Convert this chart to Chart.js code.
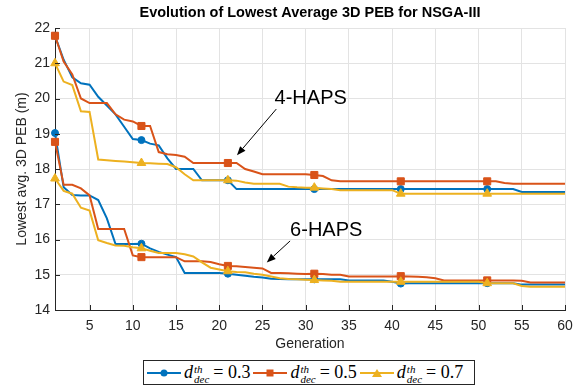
<!DOCTYPE html>
<html>
<head>
<meta charset="utf-8">
<title>Evolution of Lowest Average 3D PEB for NSGA-III</title>
<script src="https://cdn.jsdelivr.net/npm/chart.js@4.4.1/dist/chart.umd.min.js"></script>
<style>
	html, body { margin: 0; padding: 0; background: #fff; }
	#peb-wrap { position: relative; width: 587px; height: 389px; }
	#peb-chart { display: block; }
	#peb-legend {
		position: absolute; left: 143px; top: 360px; width: 332px; height: 25px;
		box-sizing: border-box; border: 1px solid #262626; background: #fff;
		display: flex; align-items: center;
		font-family: 'Liberation Serif', 'DejaVu Serif', serif; font-size: 18px; color: #000;
	}
	#peb-legend .item { display: flex; align-items: center; margin-left: 3px; }
	#peb-legend .sample { position: relative; width: 34px; height: 2px; margin-right: 3px; }
	#peb-legend .mk { position: absolute; left: 50%; top: 50%; transform: translate(-50%, -50%); }
	#peb-legend .mk.circle { width: 7px; height: 7px; border-radius: 50%; }
	#peb-legend .mk.rect { width: 7px; height: 7px; }
	#peb-legend .mk.triangle { width: 0; height: 0; border-left: 5px solid transparent; border-right: 5px solid transparent; border-bottom-width: 8px; border-bottom-style: solid; }
	#peb-legend .sym { font-style: italic; }
	#peb-legend .idx {
		display: inline-flex; flex-direction: column; vertical-align: 5px;
		font-size: 11px; font-style: italic; line-height: 10px; margin: 0 4px 0 1px;
	}
</style>
</head>
<body>
<div id="peb-wrap">
	<canvas id="peb-chart" width="587" height="389"></canvas>
	<div id="peb-legend"></div>
</div>
<script>
	'use strict';

	var generations = [
		1, 2, 3, 4, 5, 6, 7, 8, 9, 10,
		11, 12, 13, 14, 15, 16, 17, 18, 19, 20,
		21, 22, 23, 24, 25, 26, 27, 28, 29, 30,
		31, 32, 33, 34, 35, 36, 37, 38, 39, 40,
		41, 42, 43, 44, 45, 46, 47, 48, 49, 50,
		51, 52, 53, 54, 55, 56, 57, 58, 59, 60
	];

	// 4-HAPS runs
	var peb4Haps03 = [
		21.78, 21.10, 20.60, 20.43, 20.39, 20.05, 19.80, 19.55, 19.20, 18.85,
		18.82, 18.72, 18.67, 18.30, 18.00, 18.00, 18.00, 17.68, 17.68, 17.68,
		17.68, 17.43, 17.43, 17.43, 17.43, 17.43, 17.43, 17.43, 17.43, 17.43,
		17.43, 17.43, 17.43, 17.43, 17.43, 17.43, 17.43, 17.43, 17.43, 17.43,
		17.43, 17.43, 17.43, 17.43, 17.43, 17.43, 17.43, 17.43, 17.43, 17.43,
		17.43, 17.43, 17.43, 17.43, 17.35, 17.35, 17.35, 17.35, 17.35, 17.35
	];
	var peb4Haps05 = [
		21.78, 21.05, 20.68, 20.00, 19.87, 19.87, 19.87, 19.55, 19.40, 19.35,
		19.22, 19.22, 18.48, 18.42, 18.40, 18.35, 18.17, 18.17, 18.17, 18.17,
		18.17, 18.17, 18.00, 17.93, 17.85, 17.85, 17.85, 17.85, 17.85, 17.85,
		17.83, 17.80, 17.68, 17.65, 17.65, 17.65, 17.65, 17.65, 17.65, 17.65,
		17.65, 17.65, 17.65, 17.65, 17.65, 17.65, 17.65, 17.65, 17.65, 17.65,
		17.65, 17.65, 17.60, 17.58, 17.58, 17.58, 17.58, 17.58, 17.58, 17.58
	];
	var peb4Haps07 = [
		21.00, 20.48, 20.38, 19.64, 19.62, 18.27, 18.25, 18.23, 18.21, 18.19,
		18.17, 18.16, 18.15, 18.14, 18.05, 17.85, 17.68, 17.68, 17.68, 17.68,
		17.68, 17.67, 17.62, 17.58, 17.58, 17.58, 17.58, 17.50, 17.48, 17.47,
		17.47, 17.45, 17.43, 17.40, 17.40, 17.40, 17.40, 17.40, 17.40, 17.40,
		17.30, 17.30, 17.30, 17.30, 17.30, 17.30, 17.30, 17.30, 17.30, 17.30,
		17.30, 17.30, 17.30, 17.30, 17.30, 17.30, 17.30, 17.30, 17.30, 17.30
	];

	// 6-HAPS runs
	var peb6Haps03 = [
		19.02, 17.48, 17.26, 17.25, 17.25, 17.12, 16.60, 15.87, 15.87, 15.87,
		15.88, 15.75, 15.65, 15.57, 15.50, 15.05, 15.05, 15.05, 15.05, 15.05,
		15.03, 15.00, 14.97, 14.94, 14.92, 14.89, 14.88, 14.87, 14.87, 14.87,
		14.87, 14.87, 14.87, 14.87, 14.84, 14.84, 14.84, 14.84, 14.84, 14.80,
		14.75, 14.76, 14.76, 14.76, 14.76, 14.76, 14.76, 14.76, 14.76, 14.76,
		14.76, 14.76, 14.76, 14.76, 14.72, 14.72, 14.72, 14.72, 14.72, 14.72
	];
	var peb6Haps05 = [
		18.77, 17.55, 17.55, 17.45, 17.25, 16.30, 16.30, 16.30, 16.30, 15.55,
		15.50, 15.50, 15.50, 15.50, 15.50, 15.38, 15.38, 15.38, 15.36, 15.30,
		15.25, 15.24, 15.22, 15.20, 15.18, 15.05, 15.05, 15.04, 15.03, 15.02,
		15.03, 15.02, 15.00, 15.00, 14.95, 14.95, 14.95, 14.95, 14.95, 14.95,
		14.96, 14.95, 14.94, 14.93, 14.90, 14.84, 14.84, 14.84, 14.84, 14.84,
		14.84, 14.84, 14.84, 14.84, 14.83, 14.78, 14.78, 14.78, 14.78, 14.78
	];
	var peb6Haps07 = [
		17.73, 17.38, 17.30, 16.90, 16.82, 15.98, 15.90, 15.83, 15.82, 15.78,
		15.75, 15.68, 15.62, 15.62, 15.62, 15.58, 15.52, 15.35, 15.20, 15.15,
		15.10, 15.08, 15.07, 15.03, 15.00, 14.95, 14.90, 14.88, 14.87, 14.86,
		14.85, 14.84, 14.83, 14.80, 14.80, 14.80, 14.80, 14.80, 14.80, 14.80,
		14.80, 14.80, 14.80, 14.80, 14.80, 14.80, 14.80, 14.80, 14.80, 14.80,
		14.76, 14.76, 14.76, 14.76, 14.68, 14.66, 14.66, 14.66, 14.66, 14.66
	];

	var thresholdLabels = ['0.3', '0.5', '0.7'];
	var xTickValues = [5, 10, 15, 20, 25, 30, 35, 40, 45, 50, 55, 60];
	var yTickValues = [14, 15, 16, 17, 18, 19, 20, 21, 22];

	var seriesColors = ['#0072BD', '#D95319', '#EDB120'];
	var seriesMarkers = ['circle', 'rect', 'triangle'];
	var markerRadius = { circle: 3.5, rect: 5, triangle: 5 };
	var axisColor = '#262626';
	var sansFamily = "'Liberation Sans', Arial, Helvetica, sans-serif";

	// Callout text + arrow, given in data units
	var hapsNotes = [
		{ text: '4-HAPS', at: [26.4, 19.85], from: [26.6, 19.7], to: [22.05, 18.39] },
		{ text: '6-HAPS', at: [28.2, 16.1], from: [28.2, 15.96], to: [25.5, 15.35] }
	];

	function toPoints(values) {
		return values.map(function (v, i) { return { x: generations[i], y: v }; });
	}

	function buildDataset(values, k) {
		return {
			data: toPoints(values),
			borderColor: seriesColors[k],
			backgroundColor: seriesColors[k],
			borderWidth: 2,
			pointStyle: seriesMarkers[k],
			pointBackgroundColor: seriesColors[k],
			pointBorderColor: seriesColors[k],
			pointBorderWidth: 1,
			// a marker every 10th generation, starting at 1
			pointRadius: function (ctx) { return ctx.dataIndex % 10 === 0 ? markerRadius[seriesMarkers[k]] : 0; },
			tension: 0,
			fill: false,
			clip: false,
			order: 3 - k
		};
	}

	// MATLAB-style tick marks pointing into the plot
	var innerTicks = {
		id: 'innerTicks',
		afterDraw: function (chart) {
			var ctx = chart.ctx, area = chart.chartArea;
			var xs = chart.scales.x, ys = chart.scales.y;
			ctx.save();
			ctx.strokeStyle = axisColor;
			ctx.lineWidth = 1;
			ctx.beginPath();
			yTickValues.forEach(function (v) {
				var py = Math.round(ys.getPixelForValue(v)) + 0.5;
				ctx.moveTo(area.left, py);
				ctx.lineTo(area.left + 5, py);
			});
			xTickValues.forEach(function (v) {
				var px = Math.round(xs.getPixelForValue(v)) + 0.5;
				ctx.moveTo(px, area.bottom);
				ctx.lineTo(px, area.bottom - 5);
			});
			ctx.stroke();
			ctx.restore();
		}
	};

	// "4-HAPS" / "6-HAPS" labels with arrows
	var hapsCallouts = {
		id: 'hapsCallouts',
		afterDatasetsDraw: function (chart) {
			var ctx = chart.ctx;
			var xs = chart.scales.x, ys = chart.scales.y;
			ctx.save();
			hapsNotes.forEach(function (n) {
				var tx = xs.getPixelForValue(n.at[0]), ty = ys.getPixelForValue(n.at[1]);
				var x0 = xs.getPixelForValue(n.from[0]), y0 = ys.getPixelForValue(n.from[1]);
				var x1 = xs.getPixelForValue(n.to[0]), y1 = ys.getPixelForValue(n.to[1]);

				ctx.fillStyle = '#000';
				ctx.font = '20px ' + sansFamily;
				ctx.textAlign = 'left';
				ctx.textBaseline = 'alphabetic';
				ctx.fillText(n.text, tx, ty);

				var ang = Math.atan2(y1 - y0, x1 - x0);
				var headLen = 9, headHalf = 3.5;
				var bx = x1 - headLen * Math.cos(ang), by = y1 - headLen * Math.sin(ang);

				ctx.strokeStyle = '#000';
				ctx.lineWidth = 1;
				ctx.beginPath();
				ctx.moveTo(x0, y0);
				ctx.lineTo(bx, by);
				ctx.stroke();

				ctx.beginPath();
				ctx.moveTo(x1, y1);
				ctx.lineTo(bx + headHalf * Math.sin(ang), by - headHalf * Math.cos(ang));
				ctx.lineTo(bx - headHalf * Math.sin(ang), by + headHalf * Math.cos(ang));
				ctx.closePath();
				ctx.fill();
			});
			ctx.restore();
		}
	};

	var tickFont = { family: sansFamily, size: 14 };

	var chart = new Chart(document.getElementById('peb-chart'), {
		type: 'line',
		data: {
			datasets: [
				buildDataset(peb4Haps03, 0),
				buildDataset(peb4Haps05, 1),
				buildDataset(peb4Haps07, 2),
				buildDataset(peb6Haps03, 0),
				buildDataset(peb6Haps05, 1),
				buildDataset(peb6Haps07, 2)
			]
		},
		options: {
			responsive: false,
			animation: false,
			events: [],
			layout: { padding: { left: 0, right: 22, top: 0, bottom: 34 } },
			plugins: {
				legend: { display: false },
				tooltip: { enabled: false },
				title: {
					display: true,
					fullSize: false,
					text: 'Evolution of Lowest Average 3D PEB for NSGA-III',
					color: '#000',
					font: { family: sansFamily, size: 14.5, weight: 'bold' },
					padding: { top: 4, bottom: 6.6 }
				}
			},
			scales: {
				x: {
					type: 'linear',
					min: 1,
					max: 60,
					afterBuildTicks: function (scale) {
						scale.ticks = xTickValues.map(function (v) { return { value: v }; });
					},
					afterFit: function (scale) { scale.height = 45; },
					grid: { color: '#e3e3e3', drawTicks: false },
					border: { color: axisColor, width: 1 },
					ticks: { color: axisColor, font: tickFont, padding: 8, maxRotation: 0 },
					title: {
						display: true,
						text: 'Generation',
						color: axisColor,
						font: tickFont,
						padding: { top: 0, bottom: 2 }
					}
				},
				y: {
					min: 14,
					max: 22,
					afterBuildTicks: function (scale) {
						scale.ticks = yTickValues.map(function (v) { return { value: v }; });
					},
					afterFit: function (scale) { scale.width = 55; },
					grid: { color: '#e3e3e3', drawTicks: false },
					border: { color: axisColor, width: 1 },
					ticks: { color: axisColor, font: tickFont, padding: 5 },
					title: {
						display: true,
						text: 'Lowest avg. 3D PEB (m)',
						color: axisColor,
						font: tickFont,
						padding: { top: 14, bottom: 0 }
					}
				}
			}
		},
		plugins: [innerTicks, hapsCallouts]
	});

	// Legend with the d_dec^th threshold notation
	function buildLegend() {
		var box = document.getElementById('peb-legend');
		thresholdLabels.forEach(function (lbl, k) {
			var item = document.createElement('span');
			item.className = 'item';

			var sample = document.createElement('span');
			sample.className = 'sample';
			sample.style.background = seriesColors[k];
			var mk = document.createElement('span');
			mk.className = 'mk ' + seriesMarkers[k];
			if (seriesMarkers[k] === 'triangle') {
				mk.style.borderBottomColor = seriesColors[k];
			} else {
				mk.style.background = seriesColors[k];
			}
			sample.appendChild(mk);

			var text = document.createElement('span');
			text.innerHTML = '<span class="sym">d</span>' +
				'<span class="idx"><span>th</span><span>dec</span></span>' +
				'= ' + lbl;

			item.appendChild(sample);
			item.appendChild(text);
			box.appendChild(item);
		});
	}

	buildLegend();
</script>
</body>
</html>
